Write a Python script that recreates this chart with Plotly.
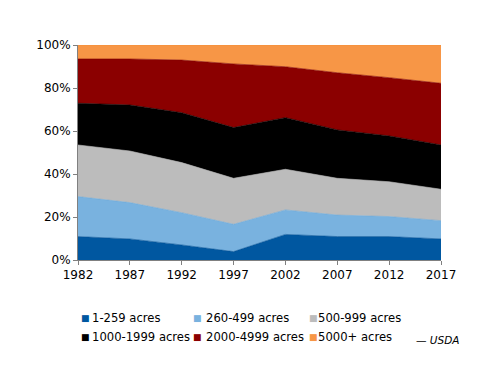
import plotly.graph_objects as go

years = [1982, 1987, 1992, 1997, 2002, 2007, 2012, 2017]
series_names = ["1-259 acres", "260-499 acres", "500-999 acres",
                "1000-1999 acres", "2000-4999 acres", "5000+ acres"]
s_1_259 = [10.9, 9.8, 7.0, 3.9, 11.9, 10.9, 10.9, 9.8]
s_260_499 = [18.6, 16.9, 15.0, 12.7, 11.4, 10.0, 9.3, 8.5]
s_500_999 = [24.0, 24.0, 23.3, 21.4, 18.9, 17.1, 16.2, 14.6]
s_1000_1999 = [19.4, 21.4, 23.2, 23.6, 24.0, 22.5, 21.3, 20.6]
s_2000_4999 = [20.6, 21.4, 24.5, 29.6, 23.7, 26.6, 27.1, 28.7]
s_5000_plus = [6.5, 6.5, 7.0, 8.8, 10.1, 12.9, 15.2, 17.8]
values = [s_1_259, s_260_499, s_500_999, s_1000_1999, s_2000_4999, s_5000_plus]
colors = ["#0057a0", "#79b2df", "#bcbcbc", "#000000", "#8b0000", "#f79646"]
line_colors = ["#004f94", "#6aa8d8", "#b0b0b0", "#000000", "#800000", "#f58a2c"]
y_ticks = [0, 20, 40, 60, 80, 100]

font = "DejaVu Sans"
# plot area in page pixels (page body adds an 8px offset)
PL, PR, PT, PB = 78, 441, 45, 260
W, H = 500, 386
OFF = 8
pw, ph = PR - PL, PB - PT


def px(x):
    return (x - PL) / pw


def py(y):
    return (PB - y) / ph


fig = go.Figure()
for name, vals, c, lc in zip(series_names, values, colors, line_colors):
    fig.add_trace(go.Scatter(
        x=years, y=vals, name=name, mode="lines", stackgroup="one",
        groupnorm="percent" if name == series_names[0] else None,
        line=dict(width=0.6, color=lc), fillcolor=c, showlegend=False,
        hoverinfo="skip"))

# legend entries (3 columns x 2 rows)
marker_x = [85, 197, 313]
text_x = [90, 203.5, 315.5]
row_y = [318, 336.5]
annotations = []
for i, (name, c) in enumerate(zip(series_names, colors)):
    r, k = divmod(i, 3)
    annotations.append(dict(
        text="■", x=px(marker_x[k]), y=py(row_y[r]), xref="paper",
        yref="paper", xanchor="center", yanchor="middle", showarrow=False,
        font=dict(size=9, color=c)))
    annotations.append(dict(
        text=name, x=px(text_x[k]), y=py(row_y[r]), xref="paper",
        yref="paper", xanchor="left", yanchor="middle", showarrow=False,
        font=dict(size=11.6, color="#000000")))
annotations.append(dict(text="<i>— USDA</i>", x=px(461), y=py(340),
                        xref="paper", yref="paper", showarrow=False,
                        xanchor="right", yanchor="middle",
                        font=dict(size=10.5)))

fig.update_layout(
    width=W, height=H,
    margin=dict(l=PL - OFF, r=W - (PR - OFF), t=PT - OFF,
                b=H - (PB - OFF), autoexpand=False),
    paper_bgcolor="white", plot_bgcolor="white",
    font=dict(family=font, size=12, color="#000000"),
    showlegend=False,
    xaxis=dict(range=[1982, 2017], tickvals=years, ticks="outside",
               ticklen=4, tickcolor="#808080", showline=True,
               linecolor="#808080", linewidth=1, showgrid=False,
               zeroline=False, tickfont=dict(size=12)),
    yaxis=dict(range=[0, 100], tickvals=y_ticks,
               ticktext=[f"{v}%" for v in y_ticks], ticks="outside",
               ticklen=4, tickcolor="#808080", showline=True,
               linecolor="#808080", linewidth=1, showgrid=False,
               zeroline=False, tickfont=dict(size=12)),
    annotations=annotations,
)

fig.write_html("out.html")
